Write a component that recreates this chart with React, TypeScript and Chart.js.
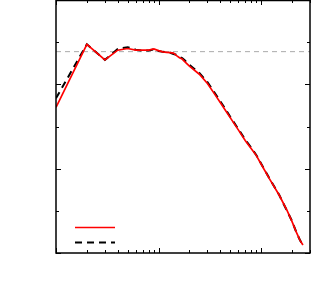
import React, { useEffect, useRef } from "react";
import { Chart, registerables } from "chart.js";

Chart.register(...registerables);

const xValues = [1, 2, 3, 4, 5, 6, 7, 8, 9, 10, 11, 12, 13, 14, 15, 16, 17, 18, 20, 25, 30, 35, 40, 45, 50, 60, 70, 80, 90, 100, 120, 150, 180, 200, 220, 240, 256];
const redSeries = [3.455, 4.95, 4.577, 4.81, 4.85, 4.81, 4.81, 4.81, 4.84, 4.80, 4.77, 4.76, 4.75, 4.74, 4.68, 4.63, 4.60, 4.54, 4.43, 4.24, 4.02, 3.78, 3.57, 3.38, 3.21, 2.92, 2.67, 2.48, 2.31, 2.11, 1.77, 1.375, 1.0, 0.75, 0.50, 0.30, 0.19];
const blackSeries = [3.67, 4.95, 4.58, 4.84, 4.88, 4.82, 4.80, 4.80, 4.83, 4.79, 4.77, 4.76, 4.75, 4.72, 4.70, 4.65, 4.62, 4.57, 4.46, 4.27, 4.05, 3.81, 3.60, 3.41, 3.23, 2.94, 2.69, 2.50, 2.32, 2.12, 1.78, 1.38, 0.99, 0.76, 0.50, 0.30, 0.18];
const refLevel = 4.775;
const xMin = 1;
const xMax = 300;
const yMin = 0;
const yMax = 6;
const xTickValues = [1, 2, 3, 4, 5, 6, 7, 8, 9, 10, 20, 30, 40, 50, 60, 70, 80, 90, 100, 200, 300];
const xMajorTicks = [1, 10, 100];
const yTickValues = [0, 1, 2, 3, 4, 5, 6];
const yMajorTicks = [0, 2, 4, 6];

const framePlugin = {
  id: "frame",
  afterDraw(chart: any) {
    const { ctx, chartArea } = chart;
    const { left, right, top, bottom } = chartArea;
    const xs = chart.scales.x;
    const ys = chart.scales.y;
    ctx.save();
    ctx.strokeStyle = "#000";
    ctx.lineWidth = 1;
    ctx.setLineDash([]);
    ctx.beginPath();
    xTickValues.forEach((v) => {
      const px = Math.round(xs.getPixelForValue(v)) + 0.5;
      const len = xMajorTicks.includes(v) ? 5 : 3;
      ctx.moveTo(px, bottom);
      ctx.lineTo(px, bottom - len);
      ctx.moveTo(px, top);
      ctx.lineTo(px, top + len);
    });
    yTickValues.forEach((v) => {
      const py = Math.round(ys.getPixelForValue(v)) + 0.5;
      const len = yMajorTicks.includes(v) ? 5 : 3;
      ctx.moveTo(left, py);
      ctx.lineTo(left + len, py);
      ctx.moveTo(right, py);
      ctx.lineTo(right - len, py);
    });
    ctx.stroke();
    ctx.lineWidth = 1.5;
    ctx.strokeRect(left, top + 0.5, right - left, bottom - top - 0.5);
    const lx0 = left + 19;
    const lx1 = left + 59;
    const ds = chart.data.datasets;
    [0, 1].forEach((i) => {
      const d = ds[i];
      const ly = Math.round(bottom - 26 + i * 15) + 0.5;
      ctx.beginPath();
      ctx.strokeStyle = d.borderColor;
      ctx.lineWidth = d.borderWidth;
      ctx.setLineDash(d.borderDash || []);
      ctx.moveTo(lx0, ly);
      ctx.lineTo(lx1, ly);
      ctx.stroke();
    });
    ctx.restore();
  },
};

export default function App() {
  const canvasRef = useRef<HTMLCanvasElement | null>(null);

  useEffect(() => {
    if (!canvasRef.current) return;
    const chart = new Chart(canvasRef.current, {
      type: "line",
      data: {
        datasets: [
          {
            data: xValues.map((x, i) => ({ x, y: redSeries[i] })),
            borderColor: "#ff0000",
            borderWidth: 1.7,
            pointRadius: 0,
            tension: 0,
            fill: false,
          },
          {
            data: xValues.map((x, i) => ({ x, y: blackSeries[i] })),
            borderColor: "#000000",
            borderWidth: 2,
            borderDash: [7, 5],
            pointRadius: 0,
            tension: 0,
            fill: false,
          },
          {
            data: [
              { x: xMin, y: refLevel },
              { x: xMax, y: refLevel },
            ],
            borderColor: "#aaaaaa",
            borderWidth: 1,
            borderDash: [5, 4],
            pointRadius: 0,
            tension: 0,
            fill: false,
          },
        ],
      },
      options: {
        animation: false,
        responsive: false,
        maintainAspectRatio: false,
        layout: { padding: { left: 56, right: 19, top: 0, bottom: 47 } },
        plugins: { legend: { display: false }, tooltip: { enabled: false } },
        scales: {
          x: { type: "logarithmic", min: xMin, max: xMax, display: false },
          y: { type: "linear", min: yMin, max: yMax, display: false },
        },
      },
      plugins: [framePlugin],
    });
    return () => chart.destroy();
  }, []);

  return (
    <div style={{ position: "absolute", left: 0, top: 0, width: 329, height: 300, background: "#fff" }}>
      <canvas ref={canvasRef} width={329} height={300} />
    </div>
  );
}
